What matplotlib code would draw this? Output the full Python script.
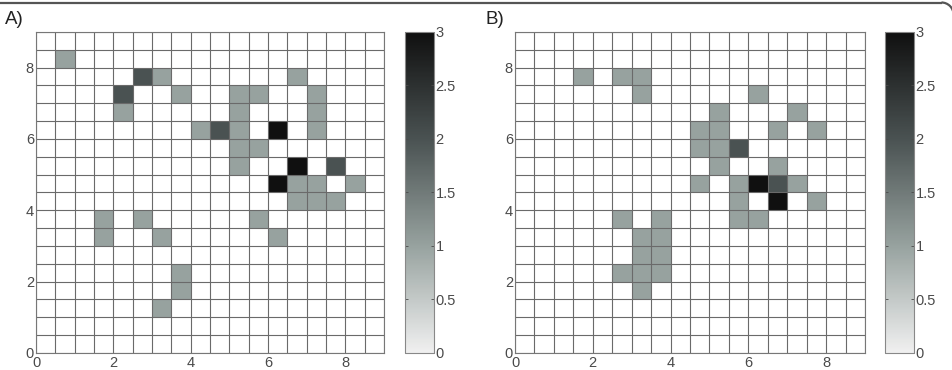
import matplotlib
matplotlib.use('Agg')
import matplotlib.pyplot as plt
import numpy as np
from matplotlib.colors import LinearSegmentedColormap
from matplotlib.lines import Line2D
from matplotlib.patches import Arc

plt.rcParams['font.family'] = ['Liberation Sans', 'DejaVu Sans']

# grid: 18 x 18 cells of 0.5 units, columns/rows counted from lower-left
n_cells = 18
cell = 0.5

# panel A: occupied cells
a_col = [1, 5, 6, 13, 4, 7, 10, 11, 14, 4, 10, 14, 8, 9, 10, 12, 14, 10, 11,
         10, 13, 15, 12, 13, 14, 16, 13, 14, 15, 3, 5, 11, 3, 6, 12, 7, 7, 6]
a_row = [16, 15, 15, 15, 14, 14, 14, 14, 14, 13, 13, 13, 12, 12, 12, 12, 12, 11, 11,
         10, 10, 10, 9, 9, 9, 9, 8, 8, 8, 7, 7, 7, 6, 6, 6, 4, 3, 2]
a_val = [1, 2, 1, 1, 2, 1, 1, 1, 1, 1, 1, 1, 1, 2, 1, 3, 1, 1, 1,
         1, 3, 2, 3, 1, 1, 1, 1, 1, 1, 1, 1, 1, 1, 1, 1, 1, 1, 1]

# panel B: occupied cells
b_col = [3, 5, 6, 6, 12, 10, 14, 9, 10, 13, 15, 9, 10, 11, 10, 13,
         9, 11, 12, 13, 14, 11, 13, 15, 5, 7, 11, 12, 6, 7, 6, 7, 5, 6, 7, 6]
b_row = [15, 15, 15, 14, 14, 13, 13, 12, 12, 12, 12, 11, 11, 11, 10, 10,
         9, 9, 9, 9, 9, 8, 8, 8, 7, 7, 7, 7, 6, 6, 5, 5, 4, 4, 4, 3]
b_val = [1, 1, 1, 1, 1, 1, 1, 1, 1, 1, 1, 1, 1, 2, 1, 1,
         1, 1, 3, 2, 1, 1, 3, 1, 1, 1, 1, 1, 1, 1, 1, 1, 1, 1, 1, 1]

ticks = [0, 2, 4, 6, 8]
cb_ticks = [0, 0.5, 1, 1.5, 2, 2.5, 3]

cmap = LinearSegmentedColormap.from_list(
    'greyish', [(0, '#f0f0f0'), (1 / 3, '#97a29f'), (2 / 3, '#4a5252'), (1, '#101010')])

txt = '#4a4a4a'


def make_grid(cols, rows, vals):
    g = np.zeros((n_cells, n_cells))
    for c, r, v in zip(cols, rows, vals):
        g[r, c] = v
    # empty cells stay white
    return np.ma.masked_equal(g, 0)


W, H = 953, 370
fig = plt.figure(figsize=(W / 100, H / 100), dpi=100)

panels = [
    ('A)', make_grid(a_col, a_row, a_val), [0.0378, 0.046, 0.3652, 0.8676], [0.425, 0.046, 0.0304, 0.8676], 0.005),
    ('B)', make_grid(b_col, b_row, b_val), [0.5404, 0.046, 0.3673, 0.8676], [0.9287, 0.046, 0.0304, 0.8676], 0.509),
]

edges = np.arange(n_cells + 1) * cell
for label, grid, pos, cpos, lx in panels:
    ax = fig.add_axes(pos)
    ax.set_facecolor('white')
    mesh = ax.pcolormesh(edges, edges, grid, cmap=cmap, vmin=0, vmax=3,
                         edgecolors='none')
    # cell borders
    for e in edges:
        ax.axvline(e, color='#6a6a6a', linewidth=0.8)
        ax.axhline(e, color='#6a6a6a', linewidth=0.8)
    ax.set_xlim(0, 9)
    ax.set_ylim(0, 9)
    ax.set_xticks(ticks)
    ax.set_yticks(ticks)
    ax.tick_params(length=0, labelsize=10.5, colors=txt)
    ax.tick_params(axis='x', pad=2)
    ax.tick_params(axis='y', pad=1.5)
    for s in ax.spines.values():
        s.set_color('#777777')
        s.set_linewidth(0.8)

    cax = fig.add_axes(cpos)
    cb = fig.colorbar(mesh, cax=cax, ticks=cb_ticks)
    cb.ax.set_yticklabels(['0', '0.5', '1', '1.5', '2', '2.5', '3'])
    cb.ax.tick_params(direction='in', length=2, labelsize=10.5, colors=txt, pad=1,
                      width=0.6, left=True, right=True)
    cb.outline.set_edgecolor('#888888')
    cb.outline.set_linewidth(0.8)

    fig.text(lx, 0.947, label, fontsize=13.5, color='#222222', va='center', ha='left')

# frame: top edge with small rounded top-right corner (right edge runs off the image)
r = 12
ytop = H - 2.5
xr = W + 0.5
fig.add_artist(Line2D([0, (xr - r) / W], [ytop / H, ytop / H], transform=fig.transFigure,
                      color='#555555', linewidth=1.6))
fig.add_artist(Arc((xr - r, ytop - r), 2 * r, 2 * r, theta1=0, theta2=90,
                   transform=None, color='#555555', linewidth=1.6))

fig.savefig('out.png', dpi=100)
